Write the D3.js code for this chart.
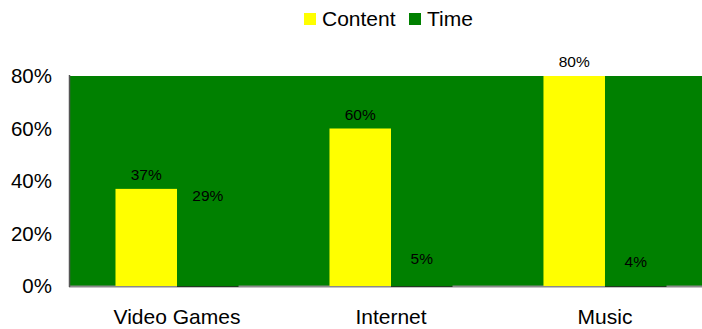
<!DOCTYPE html>
<html>
<head>
<meta charset="utf-8">
<script src="https://cdn.jsdelivr.net/npm/d3@7"></script>
<style>
  html, body { margin: 0; padding: 0; background: #fff; }
  svg { display: block; font-family: "Liberation Sans", Arial, sans-serif; }
</style>
</head>
<body>
<svg id="chart" width="702" height="329"></svg>
<script>
// Share of respondents, by medium
const categories = ["Video Games", "Internet", "Music"];
const seriesNames = ["Content", "Time"];
const contentValues = [0.37, 0.60, 0.80];
const timeValues = [0.29, 0.05, 0.04];
const yTicks = [0, 0.2, 0.4, 0.6, 0.8];
const seriesColors = ["#ffff00", "#008000"];

const svg = d3.select("#chart");
const margin = { left: 70, top: 76, bottom: 286, right: 712 };

const x0 = d3.scaleBand()
  .domain(categories)
  .range([margin.left, margin.right])
  .paddingInner(0.425)
  .paddingOuter(0.2126);

const x1 = d3.scaleBand()
  .domain(seriesNames)
  .range([0, x0.bandwidth()]);

const y = d3.scaleLinear()
  .domain([0, 0.8])
  .range([margin.bottom, margin.top]);

const color = d3.scaleOrdinal().domain(seriesNames).range(seriesColors);
const fmt = d3.format(".0%");

// plot area background
svg.append("rect")
  .attr("x", margin.left)
  .attr("y", y(0.8))
  .attr("width", margin.right - margin.left)
  .attr("height", y(0) - y(0.8))
  .attr("fill", "#008000");

// bottom axis line
svg.append("line")
  .attr("x1", margin.left - 1).attr("x2", 702)
  .attr("y1", y(0) + 0.5).attr("y2", y(0) + 0.5)
  .attr("stroke", "#8a8a8a").attr("stroke-width", 2);

// left axis line
svg.append("line")
  .attr("x1", margin.left - 0.5).attr("x2", margin.left - 0.5)
  .attr("y1", y(0.8) - 1).attr("y2", y(0) + 1)
  .attr("stroke", "#555").attr("stroke-width", 1.5);

const rows = categories.map((c, i) => ({
  category: c,
  values: [
    { key: "Content", value: contentValues[i] },
    { key: "Time", value: timeValues[i] }
  ]
}));

const groups = svg.append("g").selectAll("g")
  .data(rows)
  .join("g")
  .attr("transform", d => `translate(${x0(d.category)},0)`);

groups.selectAll("rect")
  .data(d => d.values)
  .join("rect")
  .attr("x", d => x1(d.key))
  .attr("y", d => y(d.value))
  .attr("width", x1.bandwidth())
  .attr("height", d => y(0) - y(d.value))
  .attr("fill", d => color(d.key));

// dark base edge under the Time bars
groups.selectAll("line.base")
  .data(d => d.values.filter(v => v.key === "Time"))
  .join("line")
  .attr("class", "base")
  .attr("x1", d => x1(d.key))
  .attr("x2", d => x1(d.key) + x1.bandwidth())
  .attr("y1", y(0) + 0.5).attr("y2", y(0) + 0.5)
  .attr("stroke", "#1f3a1f").attr("stroke-width", 1);

// value labels
groups.selectAll("text")
  .data(d => d.values)
  .join("text")
  .attr("x", d => x1(d.key) + x1.bandwidth() / 2)
  .attr("y", d => y(d.value) - 9)
  .attr("text-anchor", "middle")
  .attr("font-size", 15.5)
  .attr("fill", "#000")
  .text(d => fmt(d.value));

// y tick labels
svg.append("g").selectAll("text")
  .data(yTicks)
  .join("text")
  .attr("x", 52)
  .attr("y", d => y(d))
  .attr("dy", "0.35em")
  .attr("text-anchor", "end")
  .attr("font-size", 20.5)
  .attr("fill", "#000")
  .text(d => fmt(d));

// category labels
svg.append("g").selectAll("text")
  .data(categories)
  .join("text")
  .attr("x", d => x0(d) + x0.bandwidth() / 2)
  .attr("y", 324)
  .attr("text-anchor", "middle")
  .attr("font-size", 21)
  .attr("fill", "#000")
  .text(d => d);

// legend
const legendX = [304, 409];
const legend = svg.append("g").selectAll("g")
  .data(seriesNames)
  .join("g")
  .attr("transform", (d, i) => `translate(${legendX[i]},13)`);
legend.append("rect")
  .attr("width", 12).attr("height", 12)
  .attr("fill", d => color(d));
legend.append("text")
  .attr("x", 18).attr("y", 13)
  .attr("font-size", 21)
  .attr("fill", "#000")
  .text(d => d);
</script>
</body>
</html>
